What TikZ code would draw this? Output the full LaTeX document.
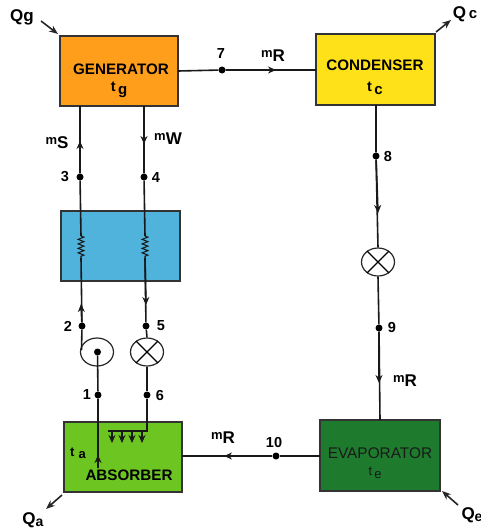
\documentclass[tikz,border=0pt]{standalone}
\usepackage{fontspec}
\setmainfont{Liberation Sans}
\usetikzlibrary{positioning,shapes,arrows.meta,decorations.pathmorphing}
\definecolor{gencol}{HTML}{FF9E1B}
\definecolor{concol}{HTML}{FFE11A}
\definecolor{hxcol}{HTML}{4FB3DC}
\definecolor{abscol}{HTML}{6CC520}
\definecolor{evacol}{HTML}{1E7B2E}
\newcommand{\boxfont}{\fontsize{15.2}{17}\selectfont\bfseries}
\newcommand{\numfont}{\fontsize{14.5}{16}\selectfont\bfseries}
\newcommand{\qfont}{\fontsize{17}{19}\selectfont\bfseries}
\newcommand{\sublab}[2]{{\fontsize{13}{15}\selectfont\bfseries #1\raisebox{-4pt}{\fontsize{17}{19}\selectfont #2}}}
\newcommand{\templab}[2]{{\fontsize{14.5}{16}\selectfont\bfseries #1\,\raisebox{-3pt}{\fontsize{15}{17}\selectfont #2}}}
\tikzset{
  unit/.style={draw=black!80, line width=1.1pt, rectangle},
  pipe/.style={draw=black!90, line width=1.6pt},
  flow/.style={pipe, -{Stealth[length=8pt,width=7pt]}},
  heat/.style={draw=black!85, line width=1.6pt, -{Stealth[length=9pt,width=7pt]}},
  dotnode/.style={circle, fill=black, inner sep=0pt, minimum size=7pt},
  roundunit/.style={ellipse, draw=black!85, line width=1.2pt, inner sep=0pt, minimum width=33pt, minimum height=28pt},
  coil/.style={pipe, line width=1.1pt, decorate, decoration={zigzag, segment length=4.5pt, amplitude=2.8pt}}
}

\begin{document}
\begin{tikzpicture}[x=1pt,y=-1pt]
  \useasboundingbox (0,0) rectangle (481,530);

  % units
  \node[unit, fill=gencol, minimum width=118pt, minimum height=70pt] (gen) at (119,71) {};
  \node[unit, fill=concol, minimum width=119pt, minimum height=71pt] (con) at (375.5,69.5) {};
  \node[unit, fill=hxcol, minimum width=119pt, minimum height=70pt] (hx) at (120.5,246) {};
  \node[unit, fill=abscol, minimum width=118pt, minimum height=70pt] (abs) at (123,457) {};
  \node[unit, fill=evacol, minimum width=120pt, minimum height=71pt] (eva) at (380,455.5) {};

  \node[font=\boxfont] (gentxt) at (121,69) {GENERATOR};
  \node[font=\boxfont] (contxt) at (375,65) {CONDENSER};
  \node[font=\boxfont] (abstxt) at (129,475) {ABSORBER};
  \node[font=\fontsize{15.4}{17}\selectfont, text=black!90] (evatxt) at (380,453) {EVAPORATOR};
  \node (gent) at (119,90) {\templab{t}{g}};
  \node (cont) at (375,88) {\templab{t}{c}};
  \node (abst) at (78,453) {{\fontsize{13}{15}\selectfont\bfseries t\,\,\raisebox{-2pt}{a}}};
  \node[text=black!90] (evat) at (375,473) {{\fontsize{13}{15}\selectfont t\,\raisebox{-3pt}{e}}};

  % round units
  \node[roundunit] (pump) at (97,352) {};
  \node[roundunit] (v1) at (147,352) {};
  \node[roundunit] (v2) at (378,262) {};
  \draw[line width=1.2pt] (v1.45) -- (v1.225) (v1.135) -- (v1.315);
  \draw[line width=1.2pt] (v2.45) -- (v2.225) (v2.135) -- (v2.315);

  % state points
  \node[dotnode] (n1) at (98,395) {};
  \node[dotnode] (n2) at (82,326) {};
  \node[dotnode] (n3) at (80,177) {};
  \node[dotnode] (n4) at (144,177) {};
  \node[dotnode] (n5) at (146,326) {};
  \node[dotnode] (n6) at (147,395) {};
  \node[dotnode] (n7) at (222,70) {};
  \node[dotnode] (n8) at (376,156) {};
  \node[dotnode] (n9) at (379,328) {};
  \node[dotnode] (n10) at (276,456) {};
  \node[dotnode] (pumpc) at (97.5,352) {};

  \node[font=\numfont] (l1) at (87,395) {1};
  \node[font=\numfont] (l2) at (68,326) {2};
  \node[font=\numfont] (l3) at (65,177) {3};
  \node[font=\numfont] (l4) at (156,178) {4};
  \node[font=\numfont] (l5) at (161,326) {5};
  \node[font=\numfont] (l6) at (160,396) {6};
  \node[font=\numfont] (l7) at (221,54) {7};
  \node[font=\numfont] (l8) at (388,157) {8};
  \node[font=\numfont] (l9) at (392,328) {9};
  \node[font=\numfont] (l10) at (274,443) {10};

  % flow labels
  \node (ms) at (57,143) {\sublab{m}{S}};
  \node (mw) at (168,139) {\sublab{m}{W}};
  \node (mr1) at (273,56) {\sublab{m}{R}};
  \node (mr2) at (405,381) {\sublab{m}{R}};
  \node (mr3) at (223,438) {\sublab{m}{R}};

  % left column
  \coordinate (g3) at (80,106);
  \coordinate (g4) at (144,106);
  \coordinate (a3) at (80,141);
  \coordinate (a4) at (144,144);
  \coordinate (c1t) at (81,236);
  \coordinate (c1b) at (81,258);
  \coordinate (c2t) at (145,236);
  \coordinate (c2b) at (145,258);
  \coordinate (a2) at (81,304);
  \coordinate (a5) at (146,305);
  \coordinate (p2) at (81.5,350);
  \draw[pipe] (g3) -- (n3) -- (c1t);
  \draw[flow] (n3) -- (a3);
  \draw[pipe] (g4) -- (n4) -- (c2t);
  \draw[flow] (g4) -- (a4);
  \draw[coil] (c1t) -- (c1b);
  \draw[coil] (c2t) -- (c2b);
  \draw[pipe] (c1b) -- (n2) -- (p2);
  \draw[flow] (n2) -- (a2);
  \draw[pipe] (c2b) -- (n5) -- (v1.north);
  \draw[flow] (c2b) -- (a5);
  \draw[pipe] (v1.south) -- (n6);

  % absorber feed
  \coordinate (b1) at (98,468);
  \coordinate (a1) at (98,455);
  \coordinate (s6) at (147,431);
  \coordinate (s0) at (108,431);
  \coordinate (s1) at (112,431);
  \coordinate (s2) at (122,431);
  \coordinate (s3) at (132,431);
  \coordinate (s4) at (142,431);
  \coordinate (t1) at (112,443);
  \coordinate (t2) at (122,443);
  \coordinate (t3) at (132,443);
  \coordinate (t4) at (142,443);
  \draw[pipe] (pumpc) -- (n1) -- (b1);
  \draw[flow] (b1) -- (a1);
  \draw[pipe] (n6) -- (s6) -- (s0);
  \foreach \i in {1,2,3,4} {
    \draw[flow, line width=1.1pt] (s\i) -- (t\i);
  }

  % top line
  \coordinate (g7) at (178,71);
  \coordinate (c7) at (316,70);
  \coordinate (a7) at (276,70);
  \draw[pipe] (g7) -- (n7) -- (c7);
  \draw[flow] (n7) -- (a7);

  % right column
  \coordinate (c8) at (376,105);
  \coordinate (a8) at (378,213);
  \coordinate (e9) at (380,420);
  \coordinate (a9) at (379,383);
  \draw[pipe] (c8) -- (n8) -- (v2.north);
  \draw[flow] (n8) -- (a8);
  \draw[pipe] (v2.south) -- (n9) -- (e9);
  \draw[flow] (n9) -- (a9);

  % bottom line
  \coordinate (e10) at (320,456);
  \coordinate (b10) at (182,456);
  \coordinate (a10) at (224,456);
  \draw[pipe] (e10) -- (n10) -- (b10);
  \draw[flow] (n10) -- (a10);

  % heat flows
  \node[font=\qfont] (qg) at (22,17) {Qg};
  \node[font=\qfont] (qc) at (465,14) {Q\,{\fontsize{15}{17}\selectfont c}};
  \node[font=\qfont] (qa) at (33,520) {Q\raisebox{-2pt}{\fontsize{14}{16}\selectfont a}};
  \node[font=\qfont] (qe) at (472,515) {Q\raisebox{-2pt}{\fontsize{14}{16}\selectfont e}};
  \coordinate (qg1) at (41,21);
  \coordinate (qg2) at (58,34);
  \coordinate (qc1) at (436,32);
  \coordinate (qc2) at (451,20);
  \coordinate (qa1) at (62,495);
  \coordinate (qa2) at (46,509);
  \coordinate (qe1) at (458,505);
  \coordinate (qe2) at (442,491);
  \draw[heat] (qg1) -- (qg2);
  \draw[heat] (qc1) -- (qc2);
  \draw[heat] (qa1) -- (qa2);
  \draw[heat] (qe1) -- (qe2);
\end{tikzpicture}
\end{document}
